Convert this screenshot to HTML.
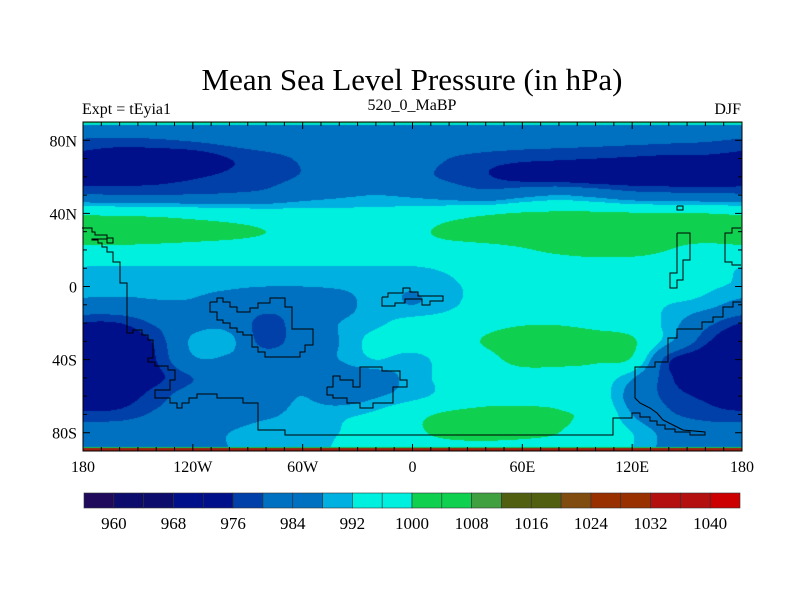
<!DOCTYPE html>
<html><head><meta charset="utf-8">
<style>
body{margin:0;background:#fff;}
#wrap{position:relative;width:800px;height:600px;background:#fff;font-family:"Liberation Serif",serif;color:#000;overflow:hidden}
.t{position:absolute;white-space:nowrap;line-height:1}
</style></head>
<body>
<div id="wrap">
<div class="t" style="left:0;width:824px;text-align:center;top:64px;font-size:31px">Mean Sea Level Pressure (in hPa)</div>
<div class="t" style="left:82px;top:102px;font-size:16px">Expt = tEyia1</div>
<div class="t" style="left:312px;width:200px;text-align:center;top:98px;font-size:16px">520_0_MaBP</div>
<div class="t" style="left:641px;width:100px;text-align:right;top:102px;font-size:16px">DJF</div>
<canvas id="map" width="659" height="329" style="position:absolute;left:83px;top:122px"></canvas>
<svg id="ov" width="800" height="600" style="position:absolute;left:0;top:0"></svg>
</div>
<script>
// grid: lats 90..-90 step 10 (rows), lons -180..180 step 20 (cols), values in hPa
const lats=[90,80,70,60,50,40,30,20,10,0,-10,-20,-30,-40,-50,-60,-70,-80,-90];
const lons=[-180,-160,-140,-120,-100,-80,-60,-40,-20,0,20,40,60,80,100,120,140,160,180];
const row90=[985,985,985,985,985,985,985,985,985,985,985,985,985,985,985,985,985,985,985];
const row80=[979.5,979,979.5,980.5,982,984,985,985,985,985,985,984,983,982.5,982,981.5,981,980.5,979.5];
const row70=[974,972,972,973,976,978,981,985,986,984,980,978,977,976.5,976,975.5,975,975,974];
const row60=[973,974,974.5,975.5,977,978.5,980.5,984,985,982,979,976.5,974,973,972,972,972,972,973];
const row50=[981,980,980,980.5,981,982,985,987,988,987,985,983,986,988,986,983,982,981.5,981];
const row40=[999,998.5,998,997,996,995,994.5,994,994,995,997,999,1000.5,1001,1001,1000.5,1000,1000,999];
const row30=[1004,1004,1003.5,1002.5,1001.5,1000,998,997,997,998.5,1001.5,1003,1003.5,1004,1004,1004,1002,1003,1004];
const row20=[998,998,997.5,997,996.5,996,996,996,996,996.5,997,998,999.5,1001,1002,1002,1000,998,998];
const row10=[991.8,991.5,991.5,991.5,991.5,991.5,991.5,991.5,991.5,991.5,993,996,997,997,997,996.5,996,995.5,991.8];
const row0=[991,990,989.5,989,988.5,988,988,988.5,989.5,988.5,991,994,996,997,997,996,995,993,991];
const rowS10=[985.5,985.5,987,987.5,986,983,983,985.5,990,988,991,995,997,997,996,994,992,990,985.5];
const rowS20=[976,976,981,986,986,977.5,984,988,991,994,995,998,999.5,999.5,998,996,990.5,982,976];
const rowS30=[971,972,977,989,989.5,977.5,984.5,988,994,995.5,997,1000.5,1003,1004,1003,1001,989,977,971];
const rowS40=[971,972,976,987,987,984.5,986,988,992,990,995,998,1002,1002,1001,999,977,972,971];
const rowS50=[972,972.5,975,980,985,986.5,986.5,985,985,990,993.5,996,997,997,996,988.5,977,971,972];
const rowS60=[973,973.5,978,983,984.5,985.5,988,985,987.5,990.5,994,997,998,998,996,985.5,978.5,975,973];
const rowS70=[977,977.5,981,983.5,985,987,989.5,991,993,998,1001,1002,1001.5,1000.5,998,988,981,978,977];
const rowS80=[984,984.5,985,986,988,990.5,991,992,995,999,1001,1001.5,1001,1000,997,992,986,983.5,984];
const rowS90=[984,984.5,985,986,988,990,991,992.5,995,997,998,998,998,997.5,996,992,986,983.5,984];
const grid=[row90,row80,row70,row60,row50,row40,row30,row20,row10,row0,rowS10,rowS20,rowS30,rowS40,rowS50,rowS60,rowS70,rowS80,rowS90];
const levels=[960,964,968,972,976,980,984,988,992,996,1000,1004,1008,1012,1016,1020,1024,1028,1032,1036,1040];
const colors=['#1f0a5c','#0c0c6c','#0c0c6c','#00108a','#00108a','#0040a8','#0070c0','#0070c0','#00b0e0','#00f0e0','#00f0e0','#10d050','#10d050','#40a040','#506010','#506010','#804c10','#983000','#983000','#b41010','#b41010','#cc0000'];
const labelLevels=[960,968,976,984,992,1000,1008,1016,1024,1032,1040];
const xTicks=[-180,-120,-60,0,60,120,180];
const xTickLabels=['180','120W','60W','0','60E','120E','180'];
const yTicks=[80,40,0,-40,-80];
const yTickLabels=['80N','40N','0','40S','80S'];

const X0=83,X1=742,Y0=122,Y1=451;
const xs=lon=>X0+(lon+180)/360*(X1-X0);
const ys=lat=>Y0+(90-lat)/180*(Y1-Y0);
function hex(c){return [parseInt(c.substr(1,2),16),parseInt(c.substr(3,2),16),parseInt(c.substr(5,2),16)];}
const rgb=colors.map(hex);
function cr(p0,p1,p2,p3,t){return 0.5*((2*p1)+(-p0+p2)*t+(2*p0-5*p1+4*p2-p3)*t*t+(-p0+3*p1-3*p2+p3)*t*t*t);}
function g(r,c){r=Math.max(0,Math.min(lats.length-1,r));if(c<0)c+=lons.length-1;if(c>lons.length-1)c-=lons.length-1;return grid[r][c];}
function val(lon,lat){
  const fc=(lon-lons[0])/20, fr=(lats[0]-lat)/10;
  const c=Math.min(Math.floor(fc),lons.length-2), r=Math.min(Math.floor(fr),lats.length-2);
  const tc=fc-c, tr=fr-r;
  const rows=[];
  for(let k=-1;k<=2;k++){rows.push(cr(g(r+k,c-1),g(r+k,c),g(r+k,c+1),g(r+k,c+2),tc));}
  return cr(rows[0],rows[1],rows[2],rows[3],tr);
}
function levelIndex(v){let i=0;while(i<levels.length&&v>=levels[i])i++;return i;}
const cv=document.getElementById('map'),ctx=cv.getContext('2d');
const W=cv.width,H=cv.height,img=ctx.createImageData(W,H);
for(let y=0;y<H;y++){for(let x=0;x<W;x++){
  const lon=-180+(x+0.5)/W*360, lat=90-(y+0.5)/H*180;
  const col=rgb[levelIndex(val(lon,lat))];const o=(y*W+x)*4;
  img.data[o]=col[0];img.data[o+1]=col[1];img.data[o+2]=col[2];img.data[o+3]=255;}}
ctx.putImageData(img,0,0);
// polar strips
ctx.fillStyle='#00e0d0';ctx.fillRect(0,0,W,3);ctx.fillStyle='#10c850';ctx.fillRect(0,0,W,1);
ctx.fillStyle='#10c850';ctx.fillRect(0,H-4,W,1);ctx.fillStyle='#a02010';ctx.fillRect(0,H-3,W,3);

const NS='http://www.w3.org/2000/svg',ov=document.getElementById('ov');
function el(t,a){const e=document.createElementNS(NS,t);for(const k in a)e.setAttribute(k,a[k]);ov.appendChild(e);return e;}
// coastlines (pixel polylines)
const coasts=[
 [[82,228],[92,228],[92,232],[95,232],[95,235],[107,235],[107,238],[113,238],[113,243],[107,243],[107,239],[92,239],[92,240],[98,240],[98,243],[102,243],[102,247],[107,247],[107,252],[113,252],[113,262],[120,262],[120,283],[127,283],[127,333],[133,333],[133,330],[142,330],[142,335],[148,335],[148,340],[153,340],[153,358],[148,358],[148,362],[155,362],[155,366],[168,366],[168,370],[175,370],[175,380],[170,380],[170,390],[155,390],[155,398],[170,398],[170,403],[177,403],[177,408],[182,408],[182,403],[189,403],[189,398],[197,398],[197,394],[217,394],[217,398],[243,398],[243,403],[258,403],[258,430],[285,430],[285,435],[613,435],[613,418],[632,418],[632,413],[640,413],[640,417],[650,417],[650,421],[657,421],[657,425],[665,425],[665,429],[675,429],[675,432],[690,432],[690,435],[705,435],[705,432],[683,430],[677,427],[663,420],[657,413],[650,408],[640,403],[635,398],[635,367],[655,367],[655,362],[668,362],[668,338],[677,338],[677,329],[702,329],[702,322],[713,322],[713,317],[723,317],[723,307],[733,307],[733,302],[741,302]],
 [[210,302],[217,302],[217,298],[223,298],[223,302],[230,302],[230,307],[237,307],[237,312],[250,312],[250,308],[258,308],[258,303],[270,303],[270,298],[285,298],[285,307],[292,307],[292,329],[313,329],[313,345],[305,345],[305,352],[300,352],[300,357],[265,357],[265,352],[258,352],[258,347],[252,347],[252,335],[243,335],[243,332],[237,332],[237,328],[230,328],[230,323],[223,323],[223,320],[217,320],[217,312],[210,312],[210,302]],
 [[327,387],[333,387],[333,376],[340,376],[340,380],[353,380],[353,387],[360,387],[360,367],[382,367],[382,371],[400,371],[400,380],[407,380],[407,387],[393,387],[393,403],[373,403],[373,408],[360,408],[360,403],[347,403],[347,398],[333,398],[333,395],[327,395],[327,387]],
 [[382,297],[388,297],[388,293],[403,293],[403,288],[410,288],[410,292],[418,292],[418,296],[443,296],[443,301],[430,301],[430,305],[422,305],[422,299],[405,299],[405,303],[395,303],[395,306],[382,306],[382,297]],
 [[677,233],[690,233],[690,260],[683,260],[683,280],[677,280],[677,288],[670,288],[670,273],[677,273],[677,233]],
 [[741,228],[732,228],[732,233],[725,233],[725,262],[732,262],[732,265],[741,265]],
 [[677,206],[683,206],[683,210],[677,210],[677,206]]
];
coasts.forEach((c,i)=>{const p=el('polyline',{points:c.map(q=>q.join(',')).join(' '),fill:'none',stroke:'#000','stroke-width':1});

});
// frame
const fr=el('rect',{x:X0,y:Y0,width:X1-X0,height:Y1-Y0,fill:'none',stroke:'#000','stroke-width':1});


// ticks
for(let lon=-170;lon<180;lon+=10){const x=xs(lon),L=(lon%60===0)?7:4;
 el('line',{x1:x,x2:x,y1:Y0,y2:Y0+L,stroke:'#000'});el('line',{x1:x,x2:x,y1:Y1,y2:Y1-L,stroke:'#000'});}
for(let lat=-80;lat<=80;lat+=10){const y=ys(lat),L=(lat%40===0)?7:4;
 el('line',{x1:X0,x2:X0+L,y1:y,y2:y,stroke:'#000'});el('line',{x1:X1,x2:X1-L,y1:y,y2:y,stroke:'#000'});}
xTicks.forEach((lon,i)=>{const t=el('text',{x:xs(lon),y:472,'text-anchor':'middle','font-size':16,'font-family':'Liberation Serif, serif'});t.textContent=xTickLabels[i];

});
yTicks.forEach((lat,i)=>{const t=el('text',{x:77,y:ys(lat)+6,'text-anchor':'end','font-size':16,'font-family':'Liberation Serif, serif'});t.textContent=yTickLabels[i];

});
// colorbar
const CB0=84,CB1=740,CBY=493,CBH=15,bw=(CB1-CB0)/colors.length;
colors.forEach((c,i)=>{const r=el('rect',{x:CB0+i*bw,y:CBY,width:bw,height:CBH,fill:c,stroke:'#333','stroke-width':0.6});

});
labelLevels.forEach(v=>{const i=levels.indexOf(v);const t=el('text',{x:CB0+(i+1)*bw,y:529,'text-anchor':'middle','font-size':17,'font-family':'Liberation Serif, serif'});t.textContent=String(v);

});
</script>
</body></html>
